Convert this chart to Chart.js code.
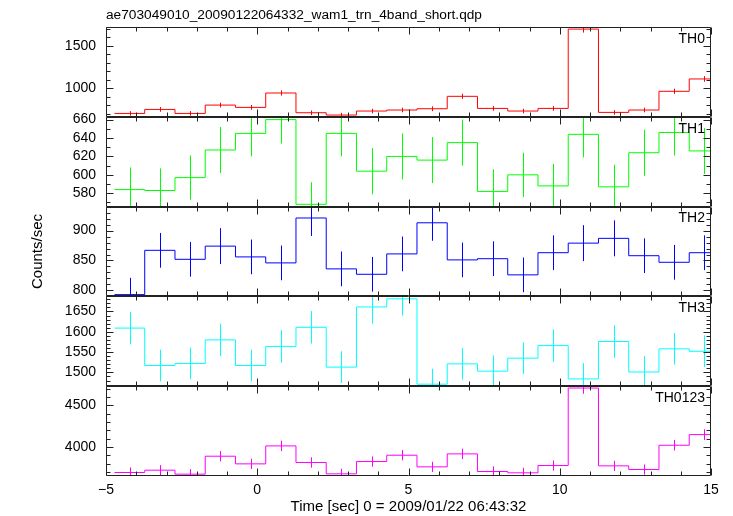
<!DOCTYPE html>
<html>
<head>
<meta charset="utf-8">
<script src="https://cdn.jsdelivr.net/npm/chart.js@4.4.1/dist/chart.umd.min.js"></script>
<style>
  html, body { margin: 0; padding: 0; background: #fff; }
  #wrap { width: 733px; height: 516px; }
</style>
</head>
<body>
<div id="wrap"><canvas id="qdp"></canvas></div>
<script>
// bin centres (sec, relative to 2009/01/22 06:43:32), 1 s bins
const times = [-4.22, -3.22, -2.22, -1.22, -0.22, 0.78, 1.78, 2.78, 3.78, 4.78,
               5.78, 6.78, 7.78, 8.78, 9.78, 10.78, 11.78, 12.78, 13.78, 14.78];
const binWidth = 1;
const xTicks = [-5, 0, 5, 10, 15];

const th0Rate = [705, 752, 705, 803, 776, 945, 713, 686, 733, 745,
                 760, 906, 764, 733, 764, 1696, 717, 745, 965, 1110];
const th0Err  = [27, 27, 27, 28, 28, 31, 27, 26, 27, 27,
                 28, 30, 28, 27, 28, 41, 27, 27, 31, 33];
const th0Ticks = [1000, 1500];

const th1Rate = [584, 583, 597, 627, 645, 660, 568, 645, 604, 620,
                 616, 635, 582, 600, 588, 644, 587, 624, 646, 626];
const th1Err  = [24, 24, 24, 25, 25, 26, 24, 25, 25, 25,
                 25, 25, 24, 24, 24, 25, 24, 25, 25, 25];
const th1Ticks = [580, 600, 620, 640, 660];

const th2Rate = [793, 867, 852, 874, 856, 846, 921, 836, 827, 861,
                 913, 851, 853, 826, 863, 879, 887, 858, 847, 863];
const th2Err  = [28, 29, 29, 30, 29, 29, 30, 29, 29, 29,
                 30, 29, 29, 29, 29, 30, 30, 29, 29, 29];
const th2Ticks = [800, 850, 900];

const th3Rate = [1609, 1517, 1522, 1580, 1517, 1564, 1611, 1513, 1661, 1681,
                 1471, 1521, 1503, 1535, 1566, 1484, 1576, 1501, 1558, 1552];
const th3Err  = [40, 39, 39, 40, 39, 40, 40, 39, 41, 41,
                 38, 39, 39, 39, 40, 39, 40, 39, 39, 39];
const th3Ticks = [1500, 1550, 1600, 1650];

const thAllRate = [3692, 3720, 3672, 3888, 3796, 4012, 3812, 3676, 3824, 3900,
                   3760, 3916, 3704, 3688, 3776, 4708, 3772, 3728, 4020, 4148];
const thAllErr  = [61, 61, 61, 62, 62, 63, 62, 61, 62, 62,
                   61, 63, 61, 61, 61, 69, 61, 61, 63, 64];
const thAllTicks = [4000, 4500];

// top to bottom
const panels = [
  { id: 'yTH0',    label: 'TH0',    color: '#ff0000', rate: th0Rate,   err: th0Err,   ticks: th0Ticks,   min: 665,   max: 1720, minor: 100 },
  { id: 'yTH1',    label: 'TH1',    color: '#00ff00', rate: th1Rate,   err: th1Err,   ticks: th1Ticks,   min: 565.5, max: 663,  minor: 10 },
  { id: 'yTH2',    label: 'TH2',    color: '#0000ff', rate: th2Rate,   err: th2Err,   ticks: th2Ticks,   min: 790,   max: 940,  minor: 10 },
  { id: 'yTH3',    label: 'TH3',    color: '#00ffff', rate: th3Rate,   err: th3Err,   ticks: th3Ticks,   min: 1466,  max: 1687, minor: 10 },
  { id: 'yTH0123', label: 'TH0123', color: '#ff00ff', rate: thAllRate, err: thAllErr, ticks: thAllTicks, min: 3650,  max: 4730, minor: 100 },
];

Chart.defaults.font.family = '"Liberation Sans", Arial, Helvetica, sans-serif';
Chart.defaults.color = '#000';

const stepPoints = (rate) => {
  const pts = times.map((t, i) => ({ x: t - binWidth / 2, y: rate[i] }));
  pts.push({ x: times[times.length - 1] + binWidth / 2, y: rate[rate.length - 1] });
  return pts;
};

const scales = {
  x: {
    type: 'linear',
    min: -5,
    max: 15,
    grid: { display: false, drawTicks: false },
    border: { display: false },
    afterBuildTicks: (s) => { s.ticks = xTicks.map((v) => ({ value: v })); },
    ticks: {
      padding: 6,
      autoSkip: false,
      maxRotation: 0,
      font: { size: 14 },
      callback: (v) => String(v).replace('-', '\u2212'),
    },
    title: {
      display: true,
      text: 'Time [sec] 0 = 2009/01/22 06:43:32',
      font: { size: 15 },
      padding: { top: 0, bottom: 0 },
    },
    afterFit: (s) => { s.height = 40; },
  },
};

// stacked axes are laid out bottom-up, so add them in reverse
[...panels].reverse().forEach((p) => {
  scales[p.id] = {
    type: 'linear',
    position: 'left',
    stack: 'panels',
    stackWeight: 1,
    min: p.min,
    max: p.max,
    grid: { display: false, drawTicks: false },
    border: { display: false },
    afterBuildTicks: (s) => { s.ticks = p.ticks.map((v) => ({ value: v })); },
    ticks: { padding: 10, autoSkip: false, font: { size: 14 }, callback: (v) => String(v) },
    title: p.id === 'yTH2'
      ? { display: true, text: 'Counts/sec', font: { size: 15 }, padding: { top: 29, bottom: 0 } }
      : { display: false },
    afterFit: (s) => { s.width = 106; },
  };
});

const errorBars = {
  id: 'errorBars',
  afterDatasetsDraw(chart) {
    const { ctx, chartArea } = chart;
    const xs = chart.scales.x;
    panels.forEach((p) => {
      const ys = chart.scales[p.id];
      ctx.save();
      ctx.beginPath();
      ctx.rect(chartArea.left, ys.top, chartArea.right - chartArea.left, ys.bottom - ys.top);
      ctx.clip();
      ctx.strokeStyle = p.color;
      ctx.lineWidth = 1;
      ctx.beginPath();
      times.forEach((t, i) => {
        const x = Math.round(xs.getPixelForValue(t)) + 0.5;
        ctx.moveTo(x, ys.getPixelForValue(p.rate[i] - p.err[i]));
        ctx.lineTo(x, ys.getPixelForValue(p.rate[i] + p.err[i]));
      });
      ctx.stroke();
      ctx.restore();
    });
  },
};

const frames = {
  id: 'frames',
  afterDraw(chart) {
    const { ctx, chartArea } = chart;
    const xs = chart.scales.x;
    const L = chartArea.left + 0.5, R = chartArea.right - 0.5;
    ctx.save();
    ctx.strokeStyle = '#222';
    ctx.lineWidth = 1;
    panels.forEach((p) => {
      const ys = chart.scales[p.id];
      const T = Math.round(ys.top) + 0.5, B = Math.round(ys.bottom) - 0.5;
      ctx.beginPath();
      ctx.rect(L, T, R - L, B - T);
      // x ticks, top and bottom edge
      for (let v = xs.min; v <= xs.max; v += 1) {
        const x = Math.round(xs.getPixelForValue(v)) + 0.5;
        const len = v % 5 === 0 ? 7 : 4;
        ctx.moveTo(x, T); ctx.lineTo(x, T + len);
        ctx.moveTo(x, B); ctx.lineTo(x, B - len);
      }
      // y ticks, left and right edge
      const first = Math.ceil(p.min / p.minor) * p.minor;
      for (let v = first; v <= p.max; v += p.minor) {
        const y = Math.round(ys.getPixelForValue(v)) + 0.5;
        const len = p.ticks.includes(v) ? 7 : 4;
        ctx.moveTo(L, y); ctx.lineTo(L + len, y);
        ctx.moveTo(R, y); ctx.lineTo(R - len, y);
      }
      ctx.stroke();

      ctx.fillStyle = '#000';
      ctx.font = '14px "Liberation Sans", Arial, sans-serif';
      ctx.textAlign = 'right';
      ctx.textBaseline = 'middle';
      ctx.fillText(p.label, chartArea.right - 6, ys.top + 12);
    });
    ctx.restore();
  },
};

new Chart(document.getElementById('qdp'), {
  type: 'line',
  data: {
    datasets: panels.map((p) => ({
      label: p.label,
      data: stepPoints(p.rate),
      yAxisID: p.id,
      xAxisID: 'x',
      borderColor: p.color,
      borderWidth: 1,
      pointRadius: 0,
      fill: false,
      stepped: 'before',
    })),
  },
  options: {
    responsive: true,
    maintainAspectRatio: false,
    devicePixelRatio: 1,
    animation: false,
    layout: { padding: { left: 0, right: 22, top: 0, bottom: 0 } },
    scales,
    plugins: {
      legend: { display: false },
      tooltip: { enabled: false },
      title: {
        display: true,
        text: 'ae703049010_20090122064332_wam1_trn_4band_short.qdp',
        align: 'start',
        fullSize: false,
        font: { size: 13.7, weight: 'normal' },
        padding: { top: 7, bottom: 3.6 },
      },
    },
  },
  plugins: [errorBars, frames],
});
</script>
</body>
</html>
